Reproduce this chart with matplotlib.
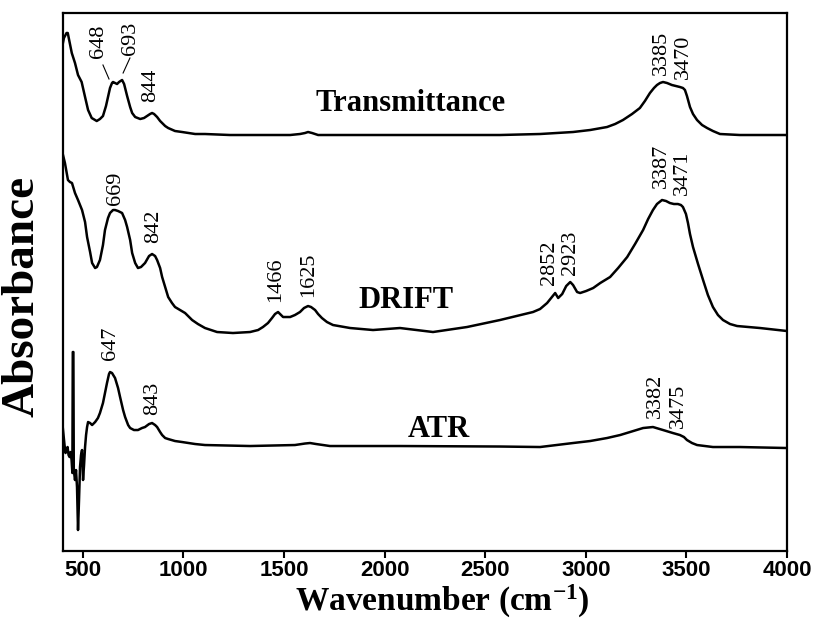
import matplotlib
matplotlib.use("Agg")
import matplotlib.pyplot as plt
from matplotlib import font_manager

# ---------------- spectra (wavenumber in cm-1, absorbance in a.u., offset) ----------------
trans_wn = [400, 407, 420, 426, 446, 462, 477, 495, 512, 527, 545, 570, 586, 601, 616, 626,
            636, 646, 651, 661, 671, 681, 696, 706, 721, 736, 746, 761, 786, 805, 820, 835,
            845, 855, 870, 885, 895, 910, 925, 959, 994, 1059, 1108, 1232, 1382, 1531, 1580,
            1605, 1620, 1640, 1670, 1729, 2077, 2326, 2574, 2773, 2937, 3022, 3106, 3146,
            3185, 3230, 3269, 3294, 3319, 3339, 3354, 3369, 3384, 3404, 3428, 3448, 3468,
            3483, 3493, 3503, 3518, 3533, 3553, 3578, 3603, 3632, 3667, 3766, 4000]
trans_abs = [5.06, 5.13, 5.18, 5.18, 4.98, 4.88, 4.76, 4.69, 4.54, 4.41, 4.33, 4.30, 4.32,
             4.35, 4.45, 4.54, 4.63, 4.68, 4.69, 4.68, 4.67, 4.69, 4.71, 4.67, 4.55, 4.44,
             4.38, 4.34, 4.32, 4.33, 4.35, 4.37, 4.38, 4.37, 4.34, 4.30, 4.28, 4.25, 4.23,
             4.20, 4.19, 4.17, 4.17, 4.16, 4.16, 4.16, 4.17, 4.18, 4.19, 4.18, 4.16, 4.16,
             4.16, 4.16, 4.16, 4.17, 4.19, 4.21, 4.24, 4.27, 4.31, 4.37, 4.43, 4.50, 4.58,
             4.63, 4.66, 4.68, 4.69, 4.68, 4.66, 4.65, 4.64, 4.63, 4.61, 4.55, 4.44, 4.37,
             4.31, 4.26, 4.23, 4.20, 4.17, 4.16, 4.16]

drift_wn = [400, 412, 427, 437, 447, 462, 477, 497, 512, 522, 537, 547, 562, 571, 586, 601,
            611, 626, 636, 651, 661, 676, 696, 711, 721, 736, 746, 761, 775, 790, 810, 830,
            845, 860, 870, 885, 895, 910, 925, 944, 959, 984, 1009, 1044, 1073, 1108, 1168,
            1247, 1332, 1372, 1396, 1421, 1441, 1456, 1471, 1481, 1496, 1531, 1555, 1580,
            1600, 1620, 1635, 1655, 1670, 1689, 1714, 1744, 1829, 1943, 2077, 2241, 2410,
            2574, 2738, 2773, 2808, 2828, 2848, 2863, 2883, 2903, 2923, 2937, 2957, 2972,
            3002, 3037, 3072, 3121, 3161, 3206, 3245, 3285, 3310, 3334, 3354, 3379, 3399,
            3418, 3438, 3458, 3473, 3483, 3498, 3508, 3518, 3533, 3558, 3583, 3607, 3632,
            3657, 3682, 3717, 3752, 3866, 4000]
drift_abs = [3.98, 3.88, 3.71, 3.69, 3.68, 3.58, 3.51, 3.41, 3.29, 3.14, 2.99, 2.88, 2.83,
             2.84, 2.91, 3.06, 3.21, 3.33, 3.38, 3.41, 3.41, 3.40, 3.38, 3.31, 3.24, 3.11,
             2.98, 2.88, 2.83, 2.84, 2.88, 2.95, 2.97, 2.95, 2.91, 2.83, 2.74, 2.64, 2.54,
             2.48, 2.44, 2.41, 2.38, 2.31, 2.27, 2.23, 2.19, 2.18, 2.19, 2.21, 2.24, 2.28,
             2.33, 2.37, 2.39, 2.37, 2.34, 2.34, 2.36, 2.39, 2.43, 2.45, 2.44, 2.41, 2.37,
             2.33, 2.29, 2.26, 2.23, 2.21, 2.23, 2.19, 2.24, 2.31, 2.39, 2.42, 2.48, 2.53,
             2.58, 2.53, 2.57, 2.65, 2.69, 2.66, 2.59, 2.58, 2.60, 2.63, 2.68, 2.74, 2.83,
             2.94, 3.07, 3.21, 3.32, 3.41, 3.47, 3.51, 3.50, 3.48, 3.47, 3.47, 3.46, 3.44,
             3.37, 3.28, 3.17, 3.04, 2.87, 2.71, 2.56, 2.44, 2.36, 2.31, 2.27, 2.25, 2.23,
             2.20]

atr_wn = [400, 405, 410, 415, 420, 425, 430, 435, 440, 445, 449, 451, 454, 456, 462, 467,
          472, 477, 482, 487, 492, 497, 502, 507, 512, 517, 522, 527, 537, 547, 562, 576,
          586, 601, 611, 621, 631, 636, 646, 661, 676, 686, 701, 711, 726, 736, 755, 775,
          795, 810, 830, 845, 860, 870, 885, 895, 910, 925, 959, 994, 1059, 1108, 1332,
          1555, 1605, 1630, 1660, 1729, 2077, 2574, 2773, 2937, 3022, 3106, 3171, 3220,
          3285, 3334, 3384, 3433, 3468, 3488, 3503, 3528, 3553, 3632, 3766, 4000]
atr_abs = [1.26, 1.16, 1.06, 0.98, 1.01, 1.04, 0.96, 0.94, 0.99, 0.91, 0.78, 1.99, 1.99,
           0.81, 0.71, 0.81, 0.64, 0.21, 0.51, 0.84, 0.96, 1.01, 0.71, 0.86, 1.04, 1.16,
           1.24, 1.29, 1.28, 1.26, 1.29, 1.33, 1.38, 1.48, 1.58, 1.68, 1.77, 1.79, 1.78,
           1.73, 1.63, 1.54, 1.41, 1.34, 1.26, 1.23, 1.21, 1.21, 1.23, 1.24, 1.27, 1.28,
           1.26, 1.24, 1.19, 1.16, 1.13, 1.12, 1.10, 1.09, 1.07, 1.06, 1.05, 1.06, 1.075,
           1.08, 1.07, 1.05, 1.05, 1.045, 1.04, 1.08, 1.10, 1.13, 1.16, 1.19, 1.23, 1.24,
           1.21, 1.18, 1.16, 1.14, 1.11, 1.08, 1.06, 1.04, 1.04, 1.03]

# ---------------- peak labels: (text, x, y bottom) ----------------
peak_labels = [
    ("648", 581, 4.93), ("693", 740, 4.96), ("844", 840, 4.49),
    ("3385", 3377, 4.76), ("3470", 3486, 4.72),
    ("669", 661, 3.46), ("842", 852, 3.08), ("1466", 1461, 2.49), ("1625", 1625, 2.54),
    ("2852", 2820, 2.66), ("2923", 2922, 2.76), ("3387", 3377, 3.63), ("3471", 3481, 3.56),
    ("647", 636, 1.91), ("843", 850, 1.36), ("3382", 3345, 1.33), ("3475", 3460, 1.23),
]
# leader lines for the close transmittance doublet
leaders = [((601, 631), (4.86, 4.72)), ((735, 701), (4.93, 4.78))]

# ---------------- spectrum names ----------------
series_names = ["Transmittance", "DRIFT", "ATR"]
name_pos = [(2128, 4.48), (2108, 2.51), (2272, 1.22)]

x_ticks = [500, 1000, 1500, 2000, 2500, 3000, 3500, 4000]

# ---------------- fonts ----------------
avail = {f.name for f in font_manager.fontManager.ttflist}
serif = "Liberation Serif" if "Liberation Serif" in avail else "DejaVu Serif"
tick_font = "Liberation Sans Narrow" if "Liberation Sans Narrow" in avail else "Liberation Sans"

plt.rcParams["mathtext.fontset"] = "custom"
plt.rcParams["mathtext.rm"] = serif + ":bold"
plt.rcParams["mathtext.bf"] = serif + ":bold"
plt.rcParams["mathtext.default"] = "bf"

fig = plt.figure(figsize=(8.13, 6.22), dpi=100)
ax = fig.add_axes([0.0769, 0.1141, 0.8911, 0.8650])

for wn, ab in [(trans_wn, trans_abs), (drift_wn, drift_abs), (atr_wn, atr_abs)]:
    ax.plot(wn, ab, color="black", lw=1.8, solid_joinstyle="round", solid_capstyle="round")

for txt, x, y in peak_labels:
    ax.text(x, y, txt, rotation=90, ha="center", va="bottom", fontsize=16,
            family=serif, color="black")

for xs, ys in leaders:
    ax.plot(xs, ys, color="black", lw=0.8)

for name, (x, y) in zip(series_names, name_pos):
    ax.text(x, y, name, ha="center", va="center", fontsize=22, fontweight="bold",
            family=serif)

ax.set_xlim(400, 4000)
ax.set_ylim(0, 5.38)
ax.set_yticks([])
ax.set_xticks(x_ticks)
ax.set_xticklabels([str(t) for t in x_ticks], family=tick_font, fontweight="bold",
                   fontsize=16)
ax.tick_params(axis="x", direction="out", length=5, width=1.5, pad=1.5)
for s in ax.spines.values():
    s.set_linewidth(1.6)

fig.text(442 / 813, 1 - 601 / 622, r"Wavenumber (cm$^{\mathbf{-1}}$)", ha="center",
         va="center", fontsize=24, fontweight="bold", family=serif)
fig.text(22 / 813, 1 - 296 / 622, "Absorbance", ha="center", va="center", rotation=90,
         fontsize=34, fontweight="bold", family=serif)

fig.savefig("out.png", dpi=100)
